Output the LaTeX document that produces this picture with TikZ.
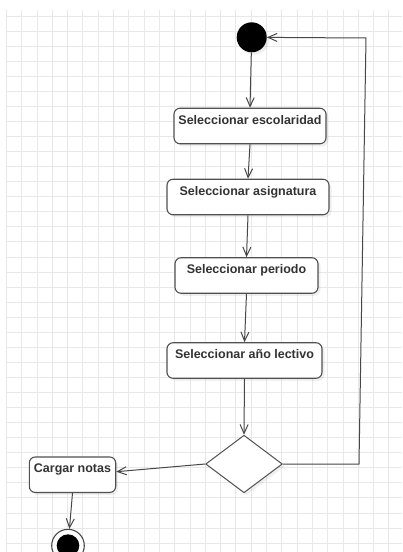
\documentclass[tikz,border=0pt]{standalone}
\usepackage{fontspec}
\setmainfont{Liberation Sans}
\usetikzlibrary{arrows.meta,shapes.geometric,shadows,calc}
\definecolor{gridc}{HTML}{E8E8E8}
\definecolor{linec}{HTML}{474747}
\definecolor{boxc}{HTML}{505050}
\definecolor{txtc}{HTML}{333333}
\begin{document}
\begin{tikzpicture}[x=1pt,y=-1pt,
  shd/.style={drop shadow={opacity=0.12,shadow xshift=2.5pt,shadow yshift=-2.5pt}},
  act/.style={draw=boxc,line width=1.1pt,fill=white,rounded corners=6pt,shd,
    inner xsep=0pt,inner ysep=0pt,text height=16pt,text depth=19.5pt,
    font=\fontsize{12.5}{14}\selectfont\bfseries,text=txtc},
  conn/.style={draw=linec,line width=1pt,-{Straight Barb[length=9pt,width=8pt,line width=1pt]}},
  plain/.style={draw=linec,line width=1pt}]
\useasboundingbox (0,0) rectangle (402,552);
\clip (0,0) rectangle (402,552);
% background grid
\fill[white] (0,0) rectangle (402,552);
\foreach \i in {0,...,25} {
  \draw[gridc,line width=0.9pt] ({6.4+15.3*\i},10) -- ({6.4+15.3*\i},552);
}
\foreach \j in {0,...,35} {
  \draw[gridc,line width=0.9pt] (6.4,{16+15.06*\j}) -- (402,{16+15.06*\j});
}
% nodes
\node[circle,fill=black,minimum size=30pt,inner sep=0pt,shd] (init) at (251.7,37.3) {};
\node[act,minimum width=152pt] (b1) at (250,126) {Seleccionar escolaridad};
\node[act,minimum width=162pt] (b2) at (248,197) {Seleccionar asignatura};
\node[act,minimum width=143pt] (b3) at (246.5,275.5) {Seleccionar periodo};
\node[act,minimum width=155pt] (b4) at (244.5,360.5) {Seleccionar año lectivo};
\node[diamond,draw=boxc,line width=1pt,fill=white,shd,minimum width=76.6pt,minimum height=57.6pt,inner sep=0pt] (dec) at (244,464) {};
\node[act,minimum width=86.4pt] (cargar) at (72.5,474.7) {Cargar notas};
\node[circle,draw=linec,line width=1.1pt,fill=white,minimum size=32.6pt,inner sep=0pt] (fin) at (68,545.6) {};
\node[circle,fill=black,minimum size=22.6pt,inner sep=0pt] (finin) at (fin.center) {};
\coordinate (l1) at (359,464);
\coordinate (l2) at (366,38);
% connectors
\draw[conn] (init) -- (b1.north);
\draw[conn] (b1.south) -- (b2.north);
\draw[conn] (b2.south) -- (b3.north);
\draw[conn] (b3.south) -- (b4.north);
\draw[conn] (b4.south) -- (dec.north);
\draw[conn] (dec.west) -- ($(cargar.east)+(0,-3)$);
\draw[conn] (cargar.south) -- (fin);
\draw[conn] (dec.east) -- (l1) -- (l2) -- (init);
\end{tikzpicture}
\end{document}
